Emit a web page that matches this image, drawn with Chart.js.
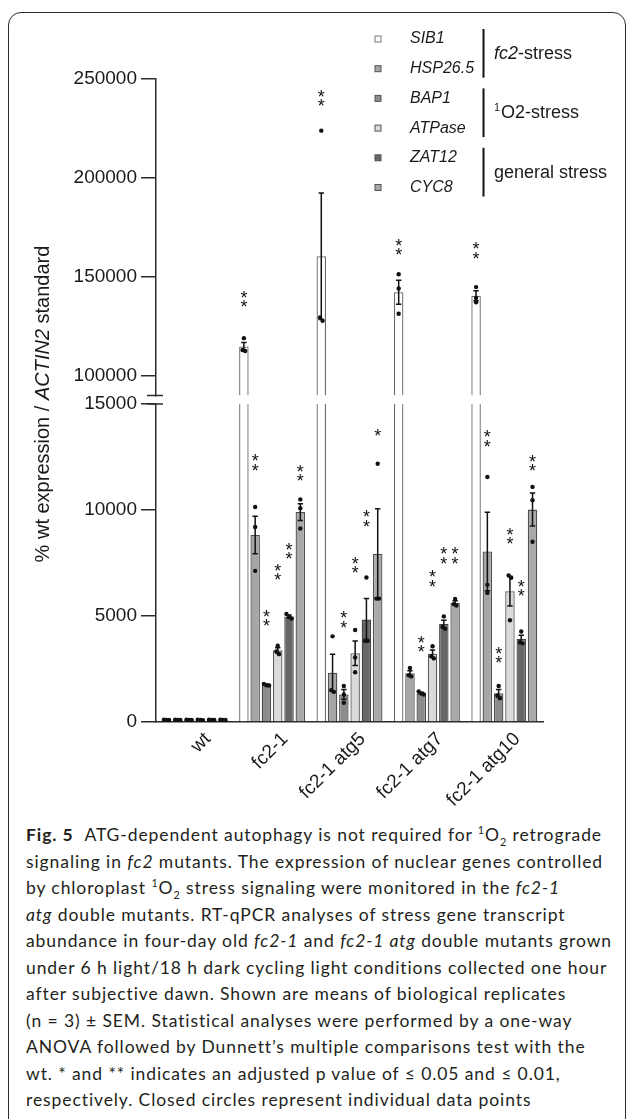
<!DOCTYPE html>
<html>
<head>
<meta charset="utf-8">
<script src="https://cdn.jsdelivr.net/npm/chart.js@4.4.1/dist/chart.umd.min.js"></script>
<style>
  html, body { margin: 0; padding: 0; background: #fff; }
  body { width: 629px; height: 1119px; position: relative; overflow: hidden; }
  .frame { position: absolute; left: 8px; top: 12px; width: 618px; height: 1140px;
           border: 1.4px solid #2b2b2b; border-radius: 13px; box-sizing: border-box; }
  .plot { position: absolute; left: 0; top: 0; width: 629px; height: 810px; }
  .caption { position: absolute; left: 26px; top: 822px; font-family: Lato, "Open Sans", sans-serif;
             font-size: 17.5px; line-height: 26.5px; color: #231f20; white-space: nowrap; }
  .caption b { font-weight: 700; margin-right: 6px; }
  .caption sup, .caption sub { font-size: 0.62em; line-height: 0; }
</style>
</head>
<body>
<div class="frame"></div>
<div class="plot"><canvas id="myChart"></canvas></div>
<div class="caption" id="cap">
<span><b>Fig. 5</b> ATG-dependent autophagy is not required for <sup>1</sup>O<sub>2</sub> retrograde</span><br>
<span>signaling in <i>fc2</i> mutants. The expression of nuclear genes controlled</span><br>
<span>by chloroplast <sup>1</sup>O<sub>2</sub> stress signaling were monitored in the <i>fc2-1</i></span><br>
<span><i>atg</i> double mutants. RT-qPCR analyses of stress gene transcript</span><br>
<span id="widest">abundance in four-day old <i>fc2-1</i> and <i>fc2-1 atg</i> double mutants grown</span><br>
<span>under 6 h light/18 h dark cycling light conditions collected one hour</span><br>
<span>after subjective dawn. Shown are means of biological replicates</span><br>
<span>(n = 3) ± SEM. Statistical analyses were performed by a one-way</span><br>
<span>ANOVA followed by Dunnett’s multiple comparisons test with the</span><br>
<span>wt. * and ** indicates an adjusted p value of ≤ 0.05 and ≤ 0.01,</span><br>
<span>respectively. Closed circles represent individual data points</span>
</div>
<script>
const groups = ["wt", "fc2-1", "fc2-1 atg5", "fc2-1 atg7", "fc2-1 atg10"];
const genes = ["SIB1", "HSP26.5", "BAP1", "ATPase", "ZAT12", "CYC8"];

const lowerTicks = [0, 5000, 10000, 15000];
const upperTicks = [100000, 150000, 200000, 250000];
const lowerMax = 15000;
const upperMin = 90000;
const upperMax = 250000;

// means (% wt expression)
const sib1 = [100, 114800, 160400, 142200, 140400];
const hsp265 = [100, 8820, 2320, 2300, 8040];
const bap1 = [100, 1750, 1300, 1360, 1360];
const atpase = [100, 3380, 3240, 3220, 6170];
const zat12 = [100, 4980, 4830, 4620, 3910];
const cyc8 = [100, 9900, 7940, 5620, 10020];

// SEM
const sib1Sem = [6, 2000, 32000, 6100, 2500];
const hsp265Sem = [5, 880, 870, 120, 1850];
const bap1Sem = [5, 30, 230, 40, 175];
const atpaseSem = [6, 120, 580, 175, 700];
const zat12Sem = [5, 65, 995, 180, 180];
const cyc8Sem = [6, 400, 2120, 95, 780];

// individual replicates
const sib1Pts = [[92, 100, 108], [119000, 112500, 113000], [223900, 127800, 129400], [151300, 144100, 131300], [144800, 139300, 137100]];
const hsp265Pts = [[94, 100, 106], [10140, 9200, 7130], [4040, 1500, 1420], [2550, 2200, 2150], [11560, 6470, 6090]];
const bap1Pts = [[95, 100, 105], [1800, 1730, 1720], [1700, 1300, 910], [1440, 1340, 1300], [1700, 1250, 1120]];
const atpasePts = [[90, 100, 110], [3600, 3330, 3200], [4340, 3040, 2350], [3570, 3100, 3000], [6910, 6800, 4800]];
const zat12Pts = [[93, 100, 107], [5100, 4950, 4880], [6815, 3830, 3830], [4980, 4480, 4400], [4270, 3760, 3710]];
const cyc8Pts = [[91, 100, 109], [10500, 10080, 9130], [12180, 5820, 5820], [5800, 5560, 5490], [11090, 10460, 8500]];

// significance marks and the value they sit at
const sib1Sig = ["", "**", "**", "**", "**"];
const hsp265Sig = ["", "**", "", "", "**"];
const bap1Sig = ["", "**", "**", "**", "**"];
const atpaseSig = ["", "**", "**", "**", "**"];
const zat12Sig = ["", "**", "**", "**", "**"];
const cyc8Sig = ["", "**", "*", "**", "**"];

const sib1SigAt = [0, 136800, 238300, 163000, 161200];
const hsp265SigAt = [0, 12050, 0, 0, 13180];
const bap1SigAt = [0, 4720, 4640, 3500, 2980];
const atpaseSigAt = [0, 6900, 7220, 6580, 8590];
const zat12SigAt = [0, 7880, 9420, 7660, 6140];
const cyc8SigAt = [0, 11550, 13700, 7660, 12040];

const means = [sib1, hsp265, bap1, atpase, zat12, cyc8];
const sems = [sib1Sem, hsp265Sem, bap1Sem, atpaseSem, zat12Sem, cyc8Sem];
const points = [sib1Pts, hsp265Pts, bap1Pts, atpasePts, zat12Pts, cyc8Pts];
const sigs = [sib1Sig, hsp265Sig, bap1Sig, atpaseSig, zat12Sig, cyc8Sig];
const sigAt = [sib1SigAt, hsp265SigAt, bap1SigAt, atpaseSigAt, zat12SigAt, cyc8SigAt];

const fills = ["#ffffff", "#a6a6a6", "#8c8c8c", "#dadada", "#676767", "#a9a9a9"];
const edges = ["#6a6a6a", "#505050", "#4a4a4a", "#5a5a5a", "#444444", "#505050"];
const FONT = "'Liberation Sans', Arial, Helvetica, sans-serif";

// each dataset is clipped to its own y axis, so the tall SIB1 bars are cut at the break
const datasets = genes.map((g, k) => ({
  label: g,
  data: means[k],
  yAxisID: "y",
  stack: "s" + k,
  backgroundColor: fills[k],
  borderColor: edges[k],
  borderWidth: 1.3,
  borderSkipped: "start",
}));
// SIB1 above the axis break
datasets.push({
  label: "SIB1 top",
  data: sib1.map(v => v > lowerMax ? v : null),
  yAxisID: "yTop",
  stack: "s0",
  base: upperMin,
  backgroundColor: fills[0],
  borderColor: edges[0],
  borderWidth: 1.3,
  borderSkipped: "start",
});

const legendRows = [39, 68.7, 98.4, 128.1, 157.8, 187.5];
const legendGroups = [
  [{ t: "fc2", i: true }, { t: "-stress" }],
  [{ t: "1", sup: true }, { t: "O2-stress" }],
  [{ t: "general stress" }],
];

function drawParts(ctx, parts, x, y, size) {
  parts.forEach(p => {
    const s = p.sup ? size * 0.6 : size;
    ctx.font = (p.i ? "italic " : "") + s + "px " + FONT;
    ctx.fillText(p.t, x, p.sup ? y - size * 0.3 : y);
    x += ctx.measureText(p.t).width + (p.sup ? 1 : 0);
  });
}

const decor = {
  id: "decor",
  afterDatasetsDraw(chart) {
    const ctx = chart.ctx;
    const low = chart.scales.y, up = chart.scales.yTop;
    ctx.save();
    means.forEach((m, k) => {
      m.forEach((v, i) => {
        const onTop = v > lowerMax;
        const bar = chart.getDatasetMeta(onTop ? 6 : k).data[i];
        const sc = onTop ? up : low;
        const x = bar.x;
        // error bar
        const yHi = sc.getPixelForValue(v + sems[k][i]);
        const yLo = sc.getPixelForValue(v - sems[k][i]);
        ctx.strokeStyle = "#111";
        ctx.lineWidth = 1.5;
        ctx.beginPath();
        ctx.moveTo(x, yHi); ctx.lineTo(x, yLo);
        ctx.moveTo(x - 2.7, yHi); ctx.lineTo(x + 2.7, yHi);
        ctx.moveTo(x - 2.7, yLo); ctx.lineTo(x + 2.7, yLo);
        ctx.stroke();
        // replicates, spread sideways when they overlap
        const ys = points[k][i].map(p => sc.getPixelForValue(p)).sort((a, b) => a - b);
        const clusters = [];
        ys.forEach(y => {
          const last = clusters[clusters.length - 1];
          if (last && y - last[last.length - 1] < 4) last.push(y); else clusters.push([y]);
        });
        ctx.fillStyle = "#111";
        clusters.forEach(c => c.forEach((y, j) => {
          const dx = (j - (c.length - 1) / 2) * 2.6;
          ctx.beginPath();
          ctx.arc(x + dx, y, 2.2, 0, Math.PI * 2);
          ctx.fill();
        }));
        // significance
        const s = sigs[k][i];
        if (s) {
          const yc = (sigAt[k][i] > lowerMax ? up : low).getPixelForValue(sigAt[k][i]);
          ctx.font = "18px " + FONT;
          ctx.textAlign = "center";
          ctx.textBaseline = "alphabetic";
          for (let n = 0; n < s.length; n++) {
            ctx.fillText("*", x, yc - n * 9.5 + 10.3);
          }
        }
      });
    });
    ctx.restore();
  },
  afterDraw(chart) {
    const ctx = chart.ctx;
    const low = chart.scales.y, up = chart.scales.yTop;
    ctx.save();
    // axis break marks
    ctx.strokeStyle = "#2b2b2b";
    ctx.lineWidth = 1.5;
    ctx.beginPath();
    ctx.moveTo(147, up.bottom); ctx.lineTo(163, up.bottom);
    ctx.moveTo(147, low.top); ctx.lineTo(163, low.top);
    ctx.stroke();

    // y title
    ctx.fillStyle = "#1a1a1a";
    ctx.textBaseline = "middle";
    ctx.textAlign = "left";
    const title = [{ t: "% wt expression / " }, { t: "ACTIN2", i: true }, { t: " standard" }];
    let w = 0;
    title.forEach(p => { ctx.font = (p.i ? "italic " : "") + "20px " + FONT; w += ctx.measureText(p.t).width; });
    ctx.translate(43.5, 404);
    ctx.rotate(-Math.PI / 2);
    drawParts(ctx, title, -w / 2, 0, 20);
    ctx.setTransform(1, 0, 0, 1, 0, 0);

    // legend
    genes.forEach((g, k) => {
      const y = legendRows[k];
      ctx.fillStyle = fills[k];
      ctx.fillRect(375, y - 3, 6, 6);
      ctx.strokeStyle = k === 0 ? "#777" : "#555";
      ctx.lineWidth = 1;
      ctx.strokeRect(375, y - 3, 6, 6);
      ctx.fillStyle = "#1a1a1a";
      ctx.font = "italic 16px " + FONT;
      ctx.fillText(g, 410, y);
    });
    legendGroups.forEach((parts, n) => {
      const y0 = legendRows[2 * n], y1 = legendRows[2 * n + 1];
      ctx.strokeStyle = "#111";
      ctx.lineWidth = 2;
      ctx.beginPath();
      ctx.moveTo(483.5, y0 - 10); ctx.lineTo(483.5, y1 + 9);
      ctx.stroke();
      ctx.fillStyle = "#1a1a1a";
      drawParts(ctx, parts, 494, (y0 + y1) / 2, 18);
    });
    ctx.restore();
  }
};

const yBase = {
  stack: "v",
  border: { display: true, color: "#2b2b2b", width: 1.5 },
  grid: { drawOnChartArea: false, drawTicks: true, tickLength: 15, color: "#2b2b2b", lineWidth: 1.5 },
  ticks: { color: "#1a1a1a", padding: 4, autoSkip: false, font: { family: FONT, size: 19 }, callback: v => String(v) },
  afterFit: s => { s.width = 156; },
};

const myChart = document.getElementById("myChart");

new Chart(myChart, {
  type: "bar",
  data: { labels: groups, datasets: datasets },
  options: {
    responsive: true,
    maintainAspectRatio: false,
    animation: false,
    layout: { padding: { top: 79, right: 86, bottom: 0, left: 0 } },
    datasets: { bar: { categoryPercentage: 0.875, barPercentage: 0.84 } },
    plugins: { legend: { display: false }, tooltip: { enabled: false } },
    scales: {
      x: {
        grid: { display: false, drawTicks: false },
        border: { display: true, color: "#2b2b2b", width: 1.5 },
        ticks: {
          color: "#1a1a1a", autoSkip: false, maxRotation: 45, minRotation: 45, padding: 6, labelOffset: 13,
          font: { family: FONT, size: 19 },
        },
        afterFit: s => { s.height = 88; },
      },
      y: Object.assign({}, yBase, {
        stackWeight: 318, min: 0, max: lowerMax,
        afterBuildTicks: s => { s.ticks = lowerTicks.map(v => ({ value: v })); },
      }),
      yGap: { stack: "v", stackWeight: 8.5, display: false },
      yTop: Object.assign({}, yBase, {
        stackWeight: 316.5, min: upperMin, max: upperMax,
        afterBuildTicks: s => { s.ticks = upperTicks.map(v => ({ value: v })); },
      }),
    },
  },
  plugins: [decor],
});

// stretch the caption lines to the printed measure
function fitCaption() {
  const line = document.getElementById("widest");
  const cap = document.getElementById("cap");
  cap.style.letterSpacing = "0px";
  const w = line.getBoundingClientRect().width;
  cap.style.letterSpacing = ((586 - w) / line.textContent.length).toFixed(3) + "px";
}
fitCaption();
document.fonts.ready.then(fitCaption);
</script>
</body>
</html>
